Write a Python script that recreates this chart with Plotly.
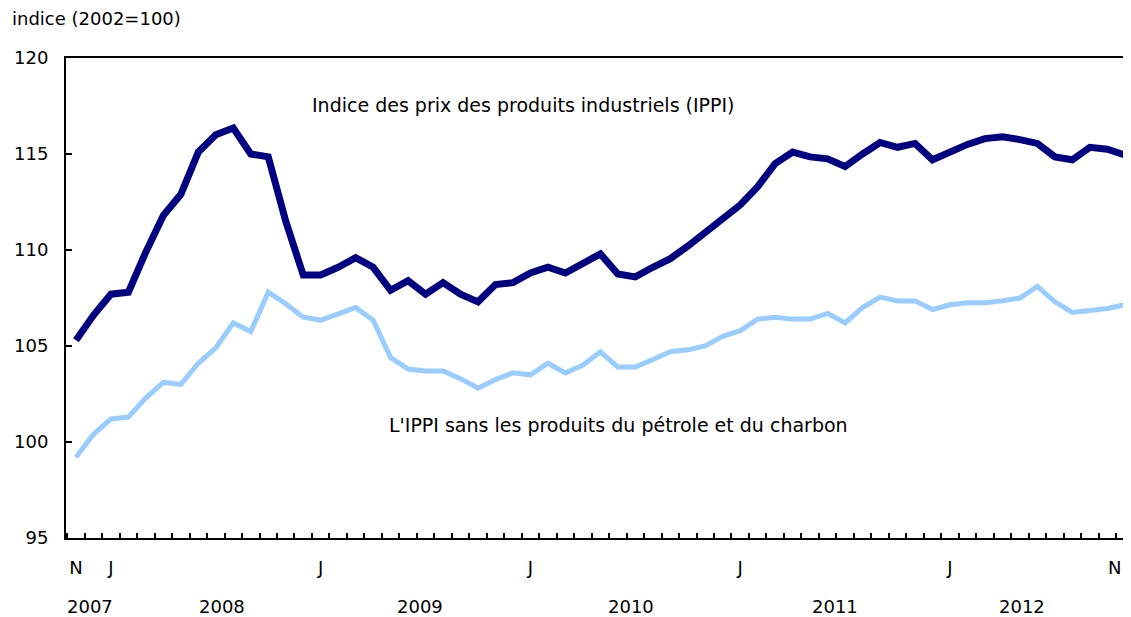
import plotly.graph_objects as go

# Months: Nov 2007 (index 0) to Nov 2012 (index 60)
month_index = list(range(61))

ippi = [105.3, 106.6, 107.7, 107.8, 109.9, 111.8, 112.9, 115.1, 116.0, 116.35,
        115.0, 114.85, 111.5, 108.7, 108.7, 109.1, 109.6, 109.1, 107.9, 108.4,
        107.7, 108.3, 107.7, 107.3, 108.2, 108.3, 108.8, 109.1, 108.8, 109.3,
        109.8, 108.75, 108.6, 109.1, 109.55, 110.2, 110.9, 111.7, 112.35, 113.3,
        114.5, 115.1, 114.85, 114.75, 114.35, 115.0, 115.6, 115.35, 115.55, 114.7,
        115.15, 115.5, 115.8, 115.9, 115.75, 115.55, 114.85, 114.7, 115.35, 115.25,
        114.95]

ippi_ex = [99.2, 100.4, 101.2, 101.3, 102.3, 103.1, 103.0, 104.1, 104.9, 106.2,
           105.75, 107.8, 107.2, 106.5, 106.35, 106.65, 107.0, 106.35, 104.4, 103.8,
           103.7, 103.7, 103.3, 102.8, 103.25, 103.6, 103.5, 104.1, 103.6, 104.0,
           104.7, 103.9, 103.9, 104.3, 104.7, 104.8, 105.0, 105.5, 105.8, 106.4,
           106.5, 106.4, 106.4, 106.7, 106.2, 107.0, 107.55, 107.35, 107.35, 106.9,
           107.15, 107.25, 107.25, 107.35, 107.5, 108.1, 107.3, 106.75, 106.85, 106.95,
           107.15]

month_tickvals = [0, 2, 14, 26, 38, 50]
month_ticktext = ["N", "J", "J", "J", "J", "J"]
last_month_tickval = 60
last_month_ticktext = "N"

year_labels = ["2007", "2008", "2009", "2010", "2011", "2012"]
year_label_pos = [0.8, 8.35, 19.7, 31.75, 43.4, 54.1]

y_ticks = [95, 100, 105, 110, 115, 120]

FONT = "DejaVu Sans, Arial, sans-serif"
FS = 18
FS_LABEL = 19

fig = go.Figure()
fig.add_trace(go.Scatter(
    x=month_index, y=ippi_ex, mode="lines",
    line=dict(color="#99ccff", width=5),
    name="L'IPPI sans les produits du pétrole et du charbon",
    hoverinfo="x+y"))
fig.add_trace(go.Scatter(
    x=month_index, y=ippi, mode="lines",
    line=dict(color="#000080", width=7),
    name="Indice des prix des produits industriels (IPPI)",
    hoverinfo="x+y"))

annotations = [
    dict(text="Indice des prix des produits industriels (IPPI)", x=13.4, y=117.55,
         xref="x", yref="y", xanchor="left", yanchor="middle", showarrow=False,
         font=dict(size=FS_LABEL, color="black", family=FONT)),
    dict(text="L'IPPI sans les produits du pétrole et du charbon", x=17.8, y=100.9,
         xref="x", yref="y", xanchor="left", yanchor="middle", showarrow=False,
         font=dict(size=FS_LABEL, color="black", family=FONT)),
    dict(text="indice (2002=100)", x=-0.0526, y=1.083, xref="paper", yref="paper",
         xanchor="left", yanchor="middle", showarrow=False,
         font=dict(size=FS, color="black", family=FONT)),
    # last month label, kept inside the window
    dict(text=last_month_ticktext, x=last_month_tickval, y=-0.0615, xref="x", yref="paper",
         xanchor="right", yanchor="middle", xshift=-2, showarrow=False,
         font=dict(size=FS, color="black", family=FONT)),
]
for lab, pos in zip(year_labels, year_label_pos):
    annotations.append(dict(text=lab, x=pos, y=-0.1417, xref="x", yref="paper",
                            xanchor="center", yanchor="middle", showarrow=False,
                            font=dict(size=FS, color="black", family=FONT)))

# The page adds an 8px body margin, so the figure is sized to fit the window.
fig.update_layout(
    width=1123, height=609,
    margin=dict(l=58, r=1, t=50, b=79),
    paper_bgcolor="white", plot_bgcolor="white",
    showlegend=False,
    font=dict(family=FONT, size=FS, color="black"),
    annotations=annotations,
    xaxis=dict(
        range=[-0.57, 60.3],
        tickmode="array", tickvals=month_tickvals, ticktext=month_ticktext,
        ticks="", ticklabelstandoff=12,
        minor=dict(tickmode="array", tickvals=[i + 0.5 for i in range(-1, 61)],
                   ticks="inside", ticklen=5, tickwidth=1.5, tickcolor="black"),
        showgrid=False, zeroline=False,
        showline=True, linecolor="black", linewidth=2, mirror=True,
        tickfont=dict(size=FS, color="black", family=FONT),
    ),
    yaxis=dict(
        range=[95, 120],
        tickmode="array", tickvals=y_ticks,
        ticks="inside", ticklen=6, tickwidth=2, tickcolor="black",
        ticklabelstandoff=12,
        showgrid=False, zeroline=False,
        showline=True, linecolor="black", linewidth=2,
        tickfont=dict(size=FS, color="black", family=FONT),
    ),
    shapes=[dict(type="line", xref="paper", yref="paper", x0=1, x1=1, y0=0, y1=1,
                 line=dict(color="#999999", width=1))],
)

fig.write_html("out.html")
